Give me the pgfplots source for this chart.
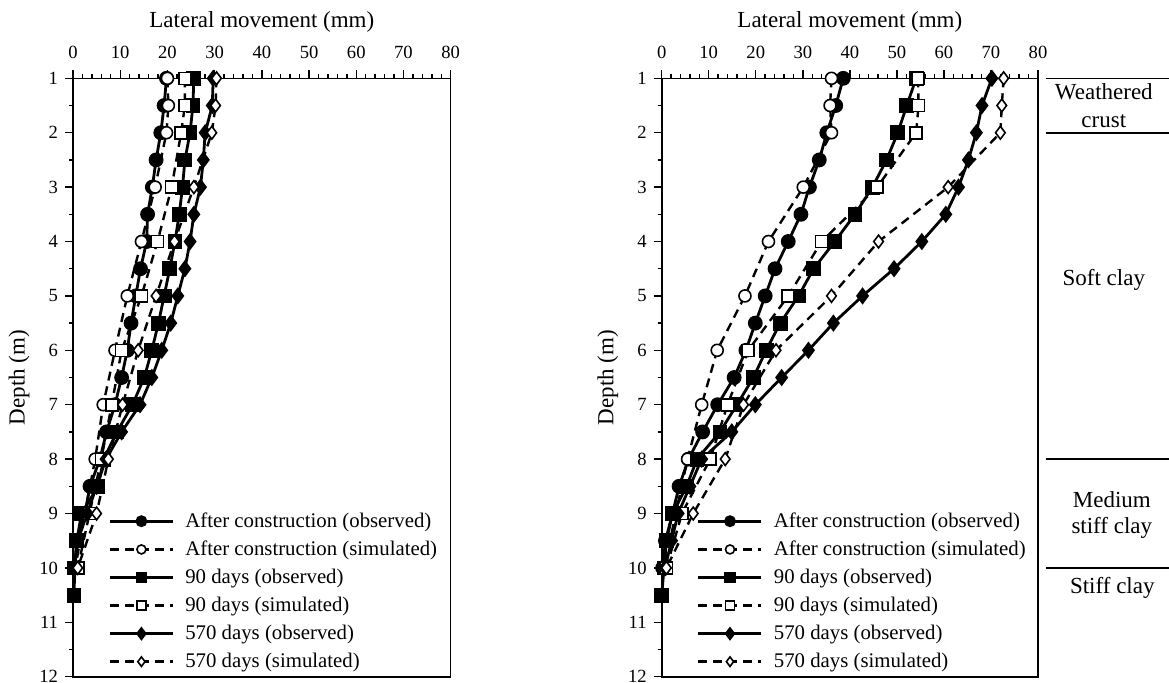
\documentclass[border=0pt]{standalone}
\usepackage{fontspec}
\setmainfont{Liberation Serif}
\usepackage{pgfplots}
\pgfplotsset{compat=1.18}

\pgfplotsset{
 myaxis/.style={
  scale only axis, height=299.2pt,
  y dir=reverse, ymin=1, ymax=12, xmin=0, xmax=80,
  xtick={0,10,...,80}, ytick={1,...,12}, minor x tick num=4, minor y tick num=1,
  xtick pos=upper, xticklabel pos=upper, ytick pos=lower, yticklabel pos=lower,
  tick align=outside, major tick length=4pt, minor tick length=2pt,
  axis line style={line width=0.8pt},
  tick style={black, line width=0.7pt},
  clip=false,
  xlabel={Lateral movement (mm)}, ylabel={Depth (m)},
  label style={font=\fontsize{11.5}{13}\selectfont},
  ylabel style={xshift=0pt, yshift=-2pt},
  ticklabel style={font=\fontsize{9.3}{10}\selectfont},
  xticklabel style={yshift=2.5pt},
  /pgf/number format/assume math mode=true,
  legend style={draw=none, fill=none, font=\fontsize{10.4}{12}\selectfont,
    at={(0.093,0.282)}, anchor=north west, row sep=1.3pt, inner sep=0pt,
    /tikz/every odd column/.append style={column sep=3.5pt}},
  legend cell align=left,
  legend image code/.code={\draw[mark repeat=2,mark phase=2,##1,every mark/.append style={scale=0.75}] plot coordinates {(0pt,0pt)(15.75pt,0pt)(31.5pt,0pt)};},
 },
 obs/.style={black, line width=1.4pt, mark size=3pt, mark options={solid}},
 sim/.style={black, line width=1.2pt, dash pattern=on 4.5pt off 3pt, mark size=3pt, mark options={solid, fill=white, line width=0.8pt}},
}

\begin{document}
\begin{tikzpicture}
% ---------------- left panel ----------------
\begin{axis}[myaxis, width=188.85pt, at={(36.5pt,-39.15pt)}, anchor=north west]
\addplot[obs, mark=*] coordinates {
(19.8,1) (19.3,1.5) (18.6,2) (17.6,2.5) (16.8,3) (15.8,3.5) (15.6,4) (14.3,4.5) (13.3,5) (12.3,5.5)
(11.5,6) (10.3,6.5) (8.9,7) (7.1,7.5) (5.7,8) (3.6,8.5) (2.5,9) (0.8,9.5) (0.3,10)};
\addlegendentry{After construction (observed)}
\addplot[sim, mark=*] coordinates {
(20.0,1) (20.2,1.5) (19.8,2) (17.4,3) (14.5,4) (11.5,5) (8.9,6) (6.4,7) (4.7,8) (2.5,9) (0.5,10)};
\addlegendentry{After construction (simulated)}
\addplot[obs, mark=square*] coordinates {
(25.6,1) (25.4,1.5) (24.8,2) (23.7,2.5) (23.2,3) (22.5,3.5) (21.6,4) (20.5,4.5) (19.3,5) (18.1,5.5)
(16.7,6) (15.1,6.5) (12.6,7) (9.3,7.5) (6.5,8) (5.3,8.5) (1.8,9) (0.8,9.5) (0.4,10) (0.2,10.5)};
\addlegendentry{90 days (observed)}
\addplot[sim, mark=square*] coordinates {
(23.7,1) (23.7,1.5) (22.9,2) (20.9,3) (17.9,4) (14.5,5) (10.3,6) (8.2,7) (6.0,8) (3.5,9) (1.0,10)};
\addlegendentry{90 days (simulated)}
\addplot[obs, mark=diamond*, mark size=3.2pt] coordinates {
(29.7,1) (29.5,1.5) (28.0,2) (27.6,2.5) (27.0,3) (25.6,3.5) (24.8,4) (23.7,4.5) (22.2,5) (20.7,5.5)
(18.8,6) (16.7,6.5) (14.2,7) (10.3,7.5) (7.0,8) (5.0,8.5) (3.0,9) (1.0,9.5) (0.3,10)};
\addlegendentry{570 days (observed)}
\addplot[sim, mark=diamond*, mark size=3.2pt] coordinates {
(30.4,1) (30.2,1.5) (29.4,2) (25.6,3) (21.5,4) (17.6,5) (13.8,6) (10.5,7) (7.5,8) (5.0,9) (1.0,10)};
\addlegendentry{570 days (simulated)}
\end{axis}
% ---------------- right panel ----------------
\begin{axis}[myaxis, width=188.15pt, at={(330.85pt,-39.15pt)}, anchor=north west]
\addplot[obs, mark=*] coordinates {
(38.6,1) (37.0,1.5) (35.1,2) (33.5,2.5) (31.4,3) (29.6,3.5) (26.9,4) (24.1,4.5) (22.0,5) (19.9,5.5)
(17.9,6) (15.4,6.5) (11.9,7) (8.7,7.5) (5.7,8) (3.7,8.5) (2.3,9) (0.8,9.5) (0.2,10)};
\addlegendentry{After construction (observed)}
\addplot[sim, mark=*] coordinates {
(36.1,1) (35.8,1.5) (36.1,2) (30.1,3) (22.7,4) (17.7,5) (11.8,6) (8.5,7) (5.5,8) (3.0,9) (0.5,10)};
\addlegendentry{After construction (simulated)}
\addplot[obs, mark=square*] coordinates {
(54.1,1) (52.1,1.5) (50.2,2) (47.8,2.5) (44.8,3) (41.1,3.5) (36.8,4) (32.3,4.5) (29.1,5) (25.2,5.5)
(22.2,6) (19.5,6.5) (16.0,7) (12.4,7.5) (7.5,8) (5.3,8.5) (2.3,9) (1.0,9.5) (0.5,10) (0.0,10.5)};
\addlegendentry{90 days (observed)}
\addplot[sim, mark=square*] coordinates {
(54.5,1) (54.6,1.5) (54.1,2) (45.8,3) (34.0,4) (26.9,5) (18.4,6) (14.0,7) (10.3,8) (4.3,9) (1.0,10)};
\addlegendentry{90 days (simulated)}
\addplot[obs, mark=diamond*, mark size=3.2pt] coordinates {
(70.2,1) (68.1,1.5) (66.9,2) (65.2,2.5) (63.1,3) (60.4,3.5) (55.3,4) (49.4,4.5) (42.7,5) (36.5,5.5)
(31.2,6) (25.5,6.5) (19.9,7) (14.9,7.5) (8.5,8) (6.0,8.5) (3.5,9) (2.1,9.5) (0.7,10)};
\addlegendentry{570 days (observed)}
\addplot[sim, mark=diamond*, mark size=3.2pt] coordinates {
(72.7,1) (72.3,1.5) (72.0,2) (60.9,3) (46.1,4) (36.1,5) (24.3,6) (17.4,7) (13.5,8) (6.7,9) (1.0,10)};
\addlegendentry{570 days (simulated)}
% soil layers
\draw[line width=0.8pt] (axis cs:81.6,1) -- (axis cs:107.9,1);
\draw[line width=0.8pt] (axis cs:81.6,2) -- (axis cs:107.9,2);
\draw[line width=0.8pt] (axis cs:81.6,8) -- (axis cs:107.9,8);
\draw[line width=0.8pt] (axis cs:81.8,10) -- (axis cs:107.9,10);
\node[align=center, font=\fontsize{11.5}{14}\selectfont] at (axis cs:94,1.5) {Weathered\\crust};
\node[font=\fontsize{11.5}{14}\selectfont] at (axis cs:94,4.7) {Soft clay};
\node[align=center, font=\fontsize{11.5}{12.7}\selectfont] at (axis cs:95.7,9.03) {Medium\\stiff clay};
\node[font=\fontsize{11.5}{14}\selectfont] at (axis cs:95.8,10.37) {Stiff clay};
\end{axis}
\pgfresetboundingbox
\path[use as bounding box] (0,0) rectangle (584.5pt,-341pt);
\end{tikzpicture}
\end{document}
